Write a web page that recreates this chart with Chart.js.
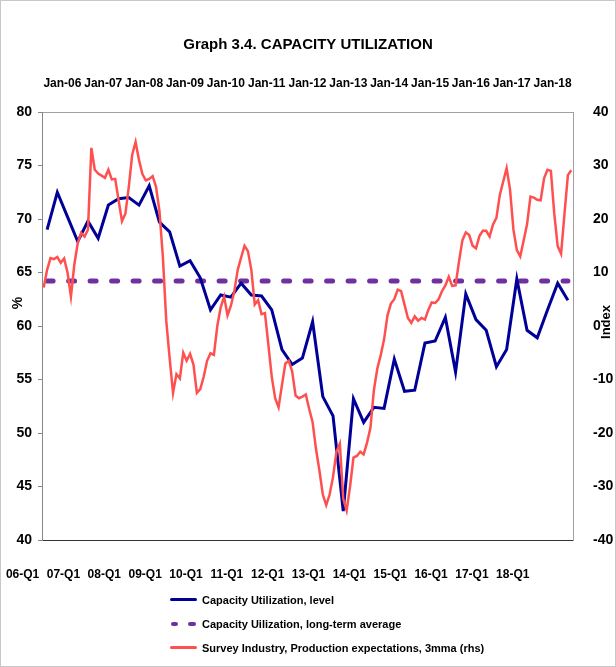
<!DOCTYPE html>
<html>
<head>
<meta charset="utf-8">
<script src="https://cdn.jsdelivr.net/npm/chart.js@4.4.1/dist/chart.umd.min.js"></script>
<style>
  body { margin: 0; background: #fff; }
  #wrap { position: relative; width: 616px; height: 667px; }
  #frame { position: absolute; left: 0; top: 0; width: 614px; height: 665px; border: 1px solid #c8c8c8; pointer-events: none; }
  #legend { position: absolute; left: 170px; top: 588px; font: bold 11px 'Liberation Sans', Arial, sans-serif; color: #000; }
  .row { height: 24px; display: flex; align-items: center; }
  .sw { width: 27px; height: 12px; position: relative; margin-right: 5px; }
  .sw span { position: absolute; top: 4px; height: 4px; border-radius: 2px; }
</style>
</head>
<body>
<div id="wrap">
  <canvas id="chart"></canvas>
  <div id="legend">
    <div class="row"><div class="sw"><span style="left:0;width:27px;height:3px;background:#000099"></span></div>Capacity Utilization, level</div>
    <div class="row"><div class="sw"><span style="left:1px;width:7px;background:#7030A0"></span><span style="left:18px;width:8px;background:#7030A0"></span></div>Capacity Uilization, long-term average</div>
    <div class="row"><div class="sw"><span style="left:0;width:27px;height:3px;background:#FF5050"></span></div>Survey Industry, Production expectations, 3mma (rhs)</div>
  </div>
  <div id="frame"></div>
</div>
<script>
var FONT = "'Liberation Sans', Arial, sans-serif";

// bottom axis: quarterly, 06-Q1 .. 18-Q4
var quarterTicks = ['06-Q1','07-Q1','08-Q1','09-Q1','10-Q1','11-Q1','12-Q1','13-Q1','14-Q1','15-Q1','16-Q1','17-Q1','18-Q1'];
// top axis: monthly, Jan-06 .. Dec-18
var monthTicks = ['Jan-06','Jan-07','Jan-08','Jan-09','Jan-10','Jan-11','Jan-12','Jan-13','Jan-14','Jan-15','Jan-16','Jan-17','Jan-18'];

// capacity utilization, level (%), quarterly
var capLevel = [
  69.0, 72.5, 70.2, 67.9, 69.8, 68.2, 71.3, 71.9, 72.0, 71.3, 73.1, 69.7,
  68.8, 65.6, 66.1, 64.5, 61.5, 62.9, 62.7, 64.0, 62.9, 62.8, 61.5, 57.8,
  56.4, 57.0, 60.4, 53.4, 51.6, 42.7, 53.2, 51.0, 52.4, 52.3, 56.9, 53.9,
  54.0, 58.4, 58.6, 60.8, 55.7, 63.0, 60.6, 59.6, 56.2, 57.8, 64.4, 59.6,
  58.9, 61.5, 64.0, 62.4
];

// long-term average (%), quarterly
var capAverage = [
  64.2, 64.2, 64.2, 64.2, 64.2, 64.2, 64.2, 64.2, 64.2, 64.2, 64.2, 64.2, 64.2,
  64.2, 64.2, 64.2, 64.2, 64.2, 64.2, 64.2, 64.2, 64.2, 64.2, 64.2, 64.2, 64.2,
  64.2, 64.2, 64.2, 64.2, 64.2, 64.2, 64.2, 64.2, 64.2, 64.2, 64.2, 64.2, 64.2,
  64.2, 64.2, 64.2, 64.2, 64.2, 64.2, 64.2, 64.2, 64.2, 64.2, 64.2, 64.2, 64.2
];

// survey industry, production expectations, 3mma (index, rhs), monthly
var surveyExp = [
  7.2, 10.5, 12.7, 12.5, 12.9, 11.8, 12.6, 10.0, 5.5, 11.5, 15.5, 17.4,
  16.7, 18.0, 33.3, 29.2, 28.5, 28.1, 27.7, 29.2, 27.4, 27.5, 23.5, 19.6,
  21.0, 26.0, 32.0, 34.4, 31.0, 28.4, 27.2, 27.5, 28.0, 26.0, 21.5, 13.0,
  1.0, -6.0, -12.5, -9.0, -9.8, -5.0, -6.5, -5.2, -7.2, -12.5, -11.8, -9.5,
  -6.5, -5.1, -5.4, 0.0, 3.5, 5.5, 2.0, 3.8, 6.5, 10.5, 12.8, 15.0,
  14.0, 10.5, 4.0, 4.8, 2.2, 2.4, -3.5, -9.5, -13.5, -15.2, -11.0, -7.0,
  -6.5, -8.5, -13.0, -13.5, -13.2, -12.8, -15.5, -18.0, -23.0, -27.0, -31.5, -33.5,
  -31.5, -28.2, -23.5, -22.0, -32.3, -34.5, -30.0, -24.6, -24.3, -23.5, -24.0, -21.8,
  -19.0, -12.0, -8.0, -5.5, -2.5, 2.0, 4.2, 5.0, 6.8, 6.5, 4.0, 1.5,
  0.6, 1.8, 1.0, 1.5, 1.2, 3.0, 4.4, 4.3, 5.0, 6.5, 7.6, 9.2,
  7.5, 7.6, 12.0, 16.0, 17.5, 17.0, 15.0, 14.5, 16.8, 17.8, 17.8, 16.7,
  19.0, 20.2, 24.5, 27.0, 29.5, 25.5, 18.0, 14.2, 13.0, 16.0, 19.0, 24.2,
  24.0, 23.6, 23.5, 27.6, 29.2, 29.0, 21.0, 14.9, 13.5, 21.0, 28.2, 29.1
];

var axisTitles = {
  id: 'axisTitles',
  afterDraw: function(chart) {
    var ctx = chart.ctx;
    ctx.save();
    ctx.fillStyle = '#000';
    ctx.font = 'bold 14px ' + FONT;
    ctx.textAlign = 'center';
    ctx.textBaseline = 'middle';
    ctx.translate(18, 303);
    ctx.rotate(-Math.PI / 2);
    ctx.fillText('%', 0, 0);
    ctx.restore();
    ctx.save();
    ctx.fillStyle = '#000';
    ctx.font = 'bold 13px ' + FONT;
    ctx.textAlign = 'center';
    ctx.textBaseline = 'middle';
    ctx.translate(606, 322);
    ctx.rotate(-Math.PI / 2);
    ctx.fillText('Index', 0, 0);
    ctx.restore();
  }
};

var yFont = { family: FONT, size: 14, weight: 'bold' };
var xFont = { family: FONT, size: 12, weight: 'bold' };

new Chart(document.getElementById('chart'), {
  type: 'line',
  data: {
    datasets: [
      {
        label: 'Survey Industry, Production expectations, 3mma (rhs)',
        data: surveyExp.map(function(v, i) { return { x: i, y: v }; }),
        xAxisID: 'xTop', yAxisID: 'y2',
        borderColor: '#FF5050', borderWidth: 2.5, pointRadius: 0, order: 0
      },
      {
        label: 'Capacity Utilization, level',
        data: capLevel.map(function(v, i) { return { x: i, y: v }; }),
        xAxisID: 'x', yAxisID: 'y',
        borderColor: '#000099', borderWidth: 3, pointRadius: 0, order: 1
      },
      {
        label: 'Capacity Uilization, long-term average',
        data: capAverage.map(function(v, i) { return { x: i, y: v }; }),
        xAxisID: 'x', yAxisID: 'y',
        borderColor: '#7030A0', borderWidth: 5, borderDash: [6, 15.5], borderCapStyle: 'round',
        pointRadius: 0, order: 2
      }
    ]
  },
  options: {
    responsive: true, maintainAspectRatio: false, animation: false,
    layout: { padding: { left: 0, right: 0, top: 0, bottom: 77 } },
    plugins: {
      legend: { display: false },
      tooltip: { enabled: false },
      title: {
        display: true, text: 'Graph 3.4. CAPACITY UTILIZATION', color: '#000',
        font: { family: FONT, size: 15, weight: 'bold' },
        padding: { top: 36, bottom: 10 }
      }
    },
    scales: {
      x: {
        type: 'linear', position: 'bottom', min: -0.5, max: 51.5,
        grid: { display: false },
        border: { display: true, color: '#333', dash: [2, 2], width: 1 },
        ticks: {
          color: '#000', font: xFont, padding: 19, autoSkip: false, maxRotation: 0,
          callback: function(v, i) { return quarterTicks[i]; }
        },
        afterBuildTicks: function(s) { s.ticks = quarterTicks.map(function(t, i) { return { value: i * 4 - 2.4 }; }); },
        afterFit: function(s) { s.height = 50; s.paddingLeft = 0; s.paddingRight = 0; }
      },
      xTop: {
        type: 'linear', position: 'top', min: -0.5, max: 155.5,
        grid: { display: false },
        border: { display: true, color: '#a0a0a0', width: 1 },
        ticks: {
          color: '#000', font: xFont, padding: 13, autoSkip: false, maxRotation: 0,
          callback: function(v, i) { return monthTicks[i]; }
        },
        afterBuildTicks: function(s) { s.ticks = monthTicks.map(function(t, i) { return { value: i * 12 + 5.5 }; }); },
        afterFit: function(s) { s.height = 48; s.paddingLeft = 0; s.paddingRight = 0; }
      },
      y: {
        position: 'left', min: 40, max: 80,
        grid: { display: true, drawOnChartArea: false, drawTicks: true, tickLength: 4, color: '#888' },
        border: { display: true, color: '#888', width: 1 },
        ticks: { stepSize: 5, color: '#000', font: yFont, padding: 6 },
        afterFit: function(s) { s.width = 42; }
      },
      y2: {
        position: 'right', min: -40, max: 40,
        grid: { display: false },
        border: { display: true, color: '#a0a0a0', width: 1 },
        ticks: { stepSize: 10, color: '#000', font: yFont, padding: 12 },
        afterFit: function(s) { s.width = 43; }
      }
    }
  },
  plugins: [axisTitles]
});
</script>
</body>
</html>
